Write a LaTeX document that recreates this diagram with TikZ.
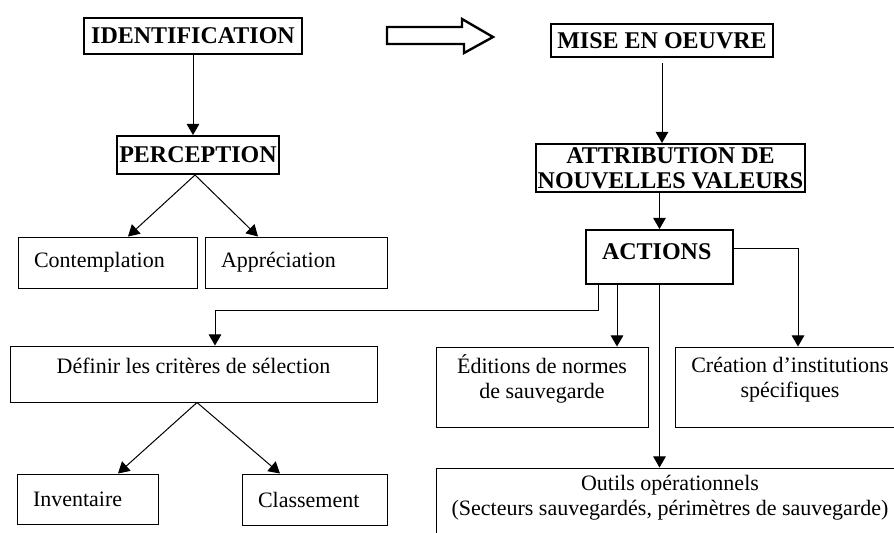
\documentclass[tikz,border=0pt]{standalone}
\usepackage{fontspec}
\setmainfont{Liberation Serif}
\usetikzlibrary{arrows}

\begin{document}
\begin{tikzpicture}[x=0.5pt, y=-0.5pt, >=triangle 60,
  titre/.style={draw, line width=1pt, inner sep=1pt, align=center,
    font=\fontsize{12}{12.5}\selectfont\bfseries},
  boite/.style={draw, line width=0.5pt, inner sep=2pt, align=center,
    font=\fontsize{11}{12.5}\selectfont},
  mot/.style={boite, inner xsep=8pt, align=left, text width=#1},
  fleche/.style={->, line width=0.5pt}]
 \useasboundingbox (0,0) rectangle (894,532);
 \clip (0,0) rectangle (894,532);

 % partie gauche
 \node [titre, minimum width=109pt, minimum height=18pt] (ident) at (193,36) {IDENTIFICATION};
 \node [titre, minimum width=81pt, minimum height=19pt] (percep) at (198,155) {PERCEPTION};
 \node [mot=73.5pt, minimum height=25.5pt] (contem) at (107.5,262.5) {Contemplation};
 \node [mot=75pt, minimum height=25.5pt] (appre) at (296,262.5) {Appréciation};
 \node [boite, minimum width=183.5pt, minimum height=28pt, text depth=8pt] (defin) at (193.5,374) {Définir les critères de sélection};
 \node [mot=54.5pt, minimum height=25pt] (inv) at (87.5,499) {Inventaire};
 \node [mot=56.5pt, minimum height=25.5pt] (class) at (314.5,499.5) {Classement};

 % grosse fleche
 \draw [line width=1.2pt, line join=miter] (387,27) -- (462,27) -- (462,19) -- (493,37)
   -- (464,53) -- (464,44) -- (387,44) -- cycle;

 % partie droite
 \node [titre, minimum width=111pt, minimum height=16.5pt] (mise) at (662,40.5) {MISE EN OEUVRE};
 \node [titre, minimum width=133.5pt, minimum height=24pt] (attrib) at (670.5,168) {ATTRIBUTION DE\\NOUVELLES VALEURS};
 \node [mot=57.5pt, line width=1pt, minimum height=27pt, text depth=5pt,
   font=\fontsize{12}{12.5}\selectfont\bfseries] (actions) at (659.5,257) {ACTIONS};
 \node [boite, minimum width=106pt, minimum height=40pt, text depth=10pt] (edit) at (542,387) {Éditions de normes\\de sauvegarde};
 \node [boite, minimum width=115pt, minimum height=40pt, text depth=10pt] (creat) at (790,387) {Création d'institutions\\spécifiques};
 \node [boite, minimum width=234pt, minimum height=35pt, text depth=8pt] (outils) at (670,503) {Outils opérationnels\\(Secteurs sauvegardés, périmètres de sauvegarde)};

 % connecteurs
 \draw [fleche] (ident.south) -- (ident.south |- percep.north);
 \draw [fleche] ([xshift=-1.5pt]percep.south) -- ([xshift=10.25pt]contem.north);
 \draw [fleche] ([xshift=-1.5pt]percep.south) -- ([xshift=-19pt]appre.north);
 \draw [fleche] ([xshift=1.75pt]defin.south) -- ([xshift=15.25pt]inv.north);
 \draw [fleche] ([xshift=1.75pt]defin.south) -- ([xshift=-17.25pt]class.north);
 \draw [fleche] ([yshift=-2.5pt]mise.south) -- (mise.south |- attrib.north);
 \draw [fleche] (actions.north |- attrib.south) -- (actions.north);
 \draw [fleche] ([yshift=4.5pt]actions.east) -| ([xshift=4pt]creat.north);
 \draw [fleche] ([xshift=-30.75pt]actions.south) -- ++(0,25) -| ([xshift=10.75pt]defin.north);
 \draw [fleche] ([xshift=-21.25pt]actions.south) -- ([xshift=37.5pt]edit.north);
 \draw [fleche] (actions.south) -- (actions.south |- outils.north);
\end{tikzpicture}
\end{document}
